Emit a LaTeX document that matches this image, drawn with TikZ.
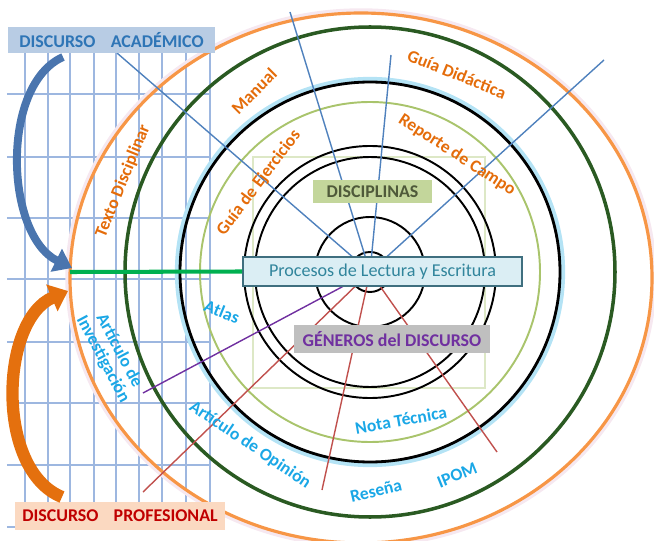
\documentclass[tikz,border=0pt]{standalone}
\usepackage{fontspec}
\setmainfont{Carlito}
\usepackage{tikz}
\usetikzlibrary{arrows.meta}

\definecolor{gridcol}{HTML}{9DB7E0}
\definecolor{acadfill}{HTML}{B8CCE4}
\definecolor{acadtext}{HTML}{2E75B6}
\definecolor{arrowblue}{HTML}{4A75AE}
\definecolor{proffill}{HTML}{FBD9C1}
\definecolor{proftext}{HTML}{C00000}
\definecolor{arroworange}{HTML}{E4700E}
\definecolor{ringorange}{HTML}{F79646}
\definecolor{ringhalo}{HTML}{F6E8F0}
\definecolor{ringgreen}{HTML}{2A5A22}
\definecolor{ringcyan}{HTML}{B4E3F5}
\definecolor{ringlime}{HTML}{A9C46C}
\definecolor{framecol}{HTML}{DDE8C6}
\definecolor{rayblue}{HTML}{4F81BD}
\definecolor{rayred}{HTML}{C0504D}
\definecolor{raypurple}{HTML}{7030A0}
\definecolor{linkgreen}{HTML}{00B050}
\definecolor{procfill}{HTML}{DBEEF4}
\definecolor{procline}{HTML}{3F6F7F}
\definecolor{proctext}{HTML}{31859C}
\definecolor{discfill}{HTML}{C3D69B}
\definecolor{disctext}{HTML}{4F5A3A}
\definecolor{genfill}{HTML}{BFBFBF}
\definecolor{labelorange}{HTML}{E46C0A}
\definecolor{labelcyan}{HTML}{1AA7E6}

\begin{document}
\begin{tikzpicture}[
  x=0.02cm, y=-0.02cm,
  tag/.style={rectangle, inner sep=0pt, font=\fontsize{10.2}{11}\selectfont\bfseries},
  genre/.style={inner sep=0pt, align=center, font=\fontsize{10}{10.5}\selectfont\bfseries},
  gridline/.style={gridcol, line width=0.6pt},
  ring/.style={line width=1.1pt},
  ray/.style={line width=0.8pt},
  curvearrow/.style={line cap=butt},
]
  \useasboundingbox (0,0) rectangle (654,541);

  % grid behind everything
  \foreach \gx in {25,48,70,94,116,139,162,186,210}
    \draw[gridline] (\gx,53) -- (\gx,502);
  \foreach \gy in {94,157,218,279,342,403,465,527}
    \draw[gridline] (7,\gy) -- (210,\gy);

  \draw[framecol, line width=0.6pt] (253,157) rectangle (485,388);

  % rings
  \coordinate (ctr) at (370,272);
  \draw[ring] (ctr) circle[radius=20];
  \draw[ring] (ctr) circle[radius=55];
  \draw[ring] (ctr) circle[radius=115];
  \draw[ring] (ctr) circle[radius=126];
  \draw[ring, ringlime] (ctr) circle[radius=170];
  \draw[ringcyan, line width=3pt] (ctr) circle[radius=192.5];
  \draw[ring, line width=1.6pt] (ctr) circle[radius=190];
  \draw[ring, ringgreen, line width=2pt] (ctr) circle[radius=245];
  \draw[ringhalo, line width=2.5pt] (361,278) ellipse[x radius=293.5, y radius=267.5];
  \draw[ringorange, line width=1.8pt] (361,278) ellipse[x radius=291, y radius=265];

  % rays
  \coordinate (b1) at (117,53);
  \coordinate (b2) at (290,12);
  \coordinate (b3) at (391,55);
  \coordinate (b4) at (604,60);
  \coordinate (r1) at (143,492);
  \coordinate (r2) at (322,490);
  \coordinate (r3) at (497,452);
  \coordinate (p1) at (143,393);
  \foreach \e in {b1,b2,b3,b4}
    \draw[ray, rayblue] (ctr) -- (\e);
  \foreach \e in {r1,r2,r3}
    \draw[ray, rayred] (ctr) -- (\e);
  \draw[ray, raypurple] (ctr) -- (p1);

  % genres
  \node[genre, labelorange, rotate=68]  (texto)  at (123,181) {Texto Disciplinar};
  \node[genre, labelorange, rotate=45]  (manual) at (254,91)  {Manual};
  \node[genre, labelorange, rotate=53]  (guiaej) at (259,183) {Guía de Ejercicios};
  \node[genre, labelorange, rotate=-22] (guiadi) at (457,74)  {Guía Didáctica};
  \node[genre, labelorange, rotate=-33] (report) at (457,155) {Reporte de Campo};
  \node[genre, labelcyan, rotate=-22]   (atlas)  at (222,312) {Atlas};
  \node[genre, labelcyan, rotate=-62]   (invest) at (111,355) {Artículo de\\Investigación};
  \node[genre, labelcyan, rotate=-34]   (opinion) at (250,445) {Artículo de Opinión};
  \node[genre, labelcyan, rotate=10]    (nota)   at (401,420) {Nota Técnica};
  \node[genre, labelcyan, rotate=13]    (resena) at (376,491) {Reseña};
  \node[genre, labelcyan, rotate=22]    (ipom)   at (457,475) {IPOM};

  % boxes
  \node[tag, fill=acadfill, text=acadtext, minimum width=4.14cm, minimum height=0.52cm]
    (acad) at (111.5,40) {DISCURSO\hspace{0.85em}ACADÉMICO};
  \node[tag, fill=proffill, text=proftext, minimum width=4.2cm, minimum height=0.56cm]
    (prof) at (120,516) {DISCURSO\hspace{0.85em}PROFESIONAL};
  \node[tag, fill=discfill, text=disctext, minimum width=2.38cm, minimum height=0.46cm]
    (disc) at (372.5,191.5) {DISCIPLINAS};
  \node[tag, fill=genfill, text=raypurple, minimum width=3.92cm, minimum height=0.56cm]
    (gen) at (392,339) {GÉNEROS del DISCURSO};
  \node[tag, draw=procline, line width=1pt, fill=procfill, text=proctext,
        font=\fontsize{10.3}{11}\selectfont, minimum width=5.58cm, minimum height=0.58cm]
    (proc) at (382.5,271.5) {Procesos de Lectura y Escritura};

  % link and curved arrows
  \coordinate (hub) at (70,272);
  \draw[linkgreen, line width=2.3pt] (hub) -- (proc.west);
  \draw[curvearrow, arrowblue, line width=4.5pt, -{Triangle[length=10pt,width=14pt]}]
    (63,57) .. controls (0,85) and (5,235) .. ([xshift=0.04cm, yshift=0.08cm]hub);
  \draw[curvearrow, arroworange, line width=7pt, -{Triangle[length=10pt,width=16pt]}]
    (62,497) .. controls (-5,470) and (0,320) .. ([xshift=-0.04cm, yshift=-0.38cm]hub);
\end{tikzpicture}
\end{document}
